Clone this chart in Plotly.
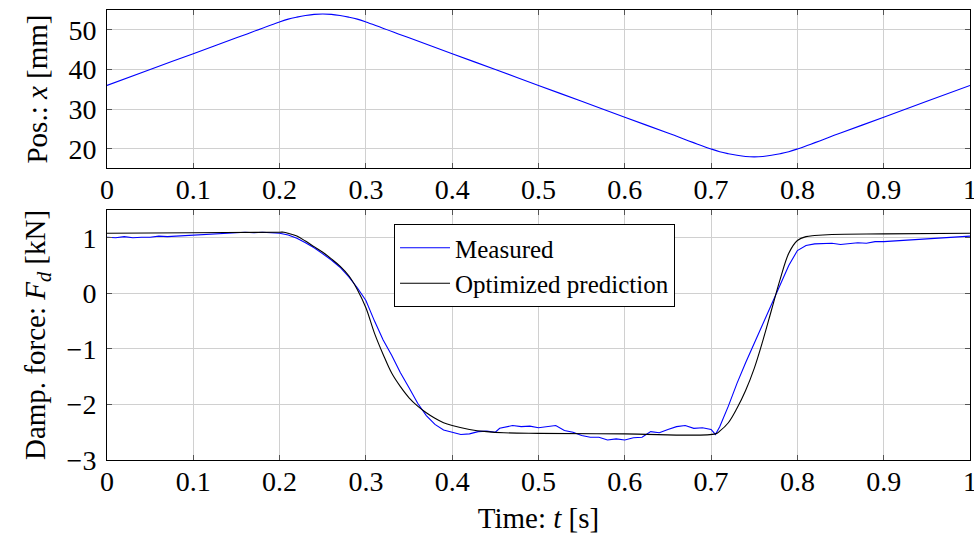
import plotly.graph_objects as go

# ---------------- data ----------------
t_pos = [0.00, 0.05, 0.10, 0.15, 0.20, 0.21, 0.22, 0.23, 0.24, 0.25, 0.26, 0.27, 0.28, 0.29,
         0.30, 0.35, 0.40, 0.45, 0.50, 0.55, 0.60, 0.65, 0.70, 0.71, 0.72, 0.73, 0.74, 0.75,
         0.76, 0.77, 0.78, 0.79, 0.80, 0.85, 0.90, 0.95, 1.00]
x_pos = [36.0, 40.0, 44.0, 48.0, 52.0, 52.7, 53.2, 53.6, 53.9, 54.0, 53.9, 53.6, 53.2, 52.7,
         52.0, 48.0, 44.0, 40.0, 36.0, 32.0, 28.0, 24.0, 20.0, 19.3, 18.8, 18.4, 18.1, 18.0,
         18.1, 18.4, 18.8, 19.3, 20.0, 24.0, 28.0, 32.0, 36.0]

t_meas = [0.00, 0.01, 0.02, 0.03, 0.04, 0.05, 0.06, 0.07, 0.08, 0.09, 0.10, 0.11, 0.12, 0.13,
          0.14, 0.15, 0.16, 0.17, 0.18, 0.19, 0.20, 0.21, 0.22, 0.23, 0.24, 0.25, 0.26, 0.27,
          0.28, 0.29, 0.30, 0.31, 0.32, 0.33, 0.34, 0.35, 0.36, 0.37, 0.38, 0.39, 0.40, 0.41,
          0.42, 0.43, 0.44, 0.45, 0.455, 0.46, 0.47, 0.48, 0.49, 0.50, 0.51, 0.52, 0.53, 0.54,
          0.55, 0.56, 0.57, 0.58, 0.59, 0.60, 0.61, 0.62, 0.63, 0.64, 0.65, 0.66, 0.67, 0.68,
          0.69, 0.70, 0.705, 0.71, 0.72, 0.73, 0.74, 0.75, 0.76, 0.77, 0.78, 0.79, 0.80, 0.81,
          0.82, 0.83, 0.84, 0.85, 0.86, 0.87, 0.88, 0.89, 0.90, 0.91, 0.92, 0.93, 0.94, 0.95,
          0.96, 0.97, 0.98, 0.99, 1.00]
f_meas = [1.01, 1.00, 1.02, 1.00, 1.01, 1.01, 1.03, 1.02, 1.03, 1.04, 1.05, 1.05, 1.07, 1.08,
          1.09, 1.09, 1.10, 1.09, 1.10, 1.09, 1.08, 1.05, 0.99, 0.91, 0.82, 0.71, 0.60, 0.47,
          0.30, 0.10, -0.13, -0.50, -0.84, -1.12, -1.43, -1.70, -1.98, -2.20, -2.36, -2.46, -2.50, -2.54,
          -2.53, -2.49, -2.48, -2.50, -2.43, -2.41, -2.38, -2.40, -2.39, -2.42, -2.40, -2.38, -2.47, -2.50,
          -2.56, -2.59, -2.59, -2.64, -2.62, -2.64, -2.60, -2.59, -2.49, -2.51, -2.45, -2.40, -2.38, -2.43,
          -2.42, -2.45, -2.54, -2.40, -2.03, -1.62, -1.25, -0.90, -0.55, -0.20, 0.18, 0.50, 0.77, 0.86,
          0.89, 0.89, 0.90, 0.88, 0.90, 0.91, 0.90, 0.93, 0.93, 0.94, 0.95, 0.95, 0.97, 0.97,
          0.98, 0.99, 1.00, 1.01, 1.03]

t_pred = [0.00, 0.10, 0.20, 0.205, 0.21, 0.22, 0.23, 0.24, 0.25, 0.26, 0.27, 0.28, 0.29, 0.30,
          0.31, 0.32, 0.33, 0.34, 0.35, 0.36, 0.37, 0.38, 0.39, 0.40, 0.42, 0.44, 0.46, 0.50,
          0.60, 0.705, 0.71, 0.72, 0.73, 0.74, 0.75, 0.76, 0.77, 0.78, 0.79, 0.80, 0.81, 0.82,
          0.84, 0.90, 1.00]
f_pred = [1.08, 1.09, 1.10, 1.10, 1.08, 1.03, 0.94, 0.84, 0.74, 0.62, 0.49, 0.32, 0.07, -0.26,
          -0.72, -1.10, -1.44, -1.68, -1.88, -2.03, -2.15, -2.25, -2.33, -2.38, -2.45, -2.49, -2.51, -2.52,
          -2.53, -2.53, -2.48, -2.33, -2.07, -1.75, -1.35, -0.85, -0.30, 0.25, 0.72, 0.95, 1.02, 1.04,
          1.06, 1.07, 1.08]

t_ticks = [0, 0.1, 0.2, 0.3, 0.4, 0.5, 0.6, 0.7, 0.8, 0.9, 1]
t_ticktext = ["0", "0.1", "0.2", "0.3", "0.4", "0.5", "0.6", "0.7", "0.8", "0.9", "1"]
pos_ticks = [20, 30, 40, 50]
force_ticks = [-3, -2, -1, 0, 1]

FONT = "Liberation Serif"

fig = go.Figure()
fig.add_trace(go.Scatter(x=t_pos, y=x_pos, mode="lines", line=dict(color="#0000ff", width=1.1),
                         xaxis="x", yaxis="y", showlegend=False, line_shape="spline"))
fig.add_trace(go.Scatter(x=t_meas, y=f_meas, mode="lines", name="Measured",
                         line=dict(color="#0000ff", width=1.1), xaxis="x2", yaxis="y2"))
fig.add_trace(go.Scatter(x=t_pred, y=f_pred, mode="lines", name="Optimized prediction",
                         line=dict(color="#000000", width=1.1), xaxis="x2", yaxis="y2",
                         line_shape="spline"))

axis_common = dict(showgrid=True, gridcolor="#d0d0d0", gridwidth=1, zeroline=False,
                   showline=True, linecolor="#000000", linewidth=1, mirror="ticks",
                   ticks="inside", ticklen=5, tickcolor="#555555", automargin=False,
                   ticklabeloverflow="allow",
                   tickfont=dict(family=FONT, size=28, color="#000000"))

fig.update_layout(
    template="none",
    width=974, height=538,
    margin=dict(l=107, r=4, t=10, b=78, autoexpand=False),
    paper_bgcolor="white", plot_bgcolor="white",
    font=dict(family=FONT, color="#000000"),
    xaxis=dict(domain=[0, 1], anchor="y", range=[0, 1.00001], tickvals=t_ticks, ticktext=t_ticktext,
               ticklabelstandoff=-4, **axis_common),
    yaxis=dict(domain=[0.6489, 1], anchor="x", range=[15.2, 55], tickvals=pos_ticks,
               ticklabelstandoff=4,
               title=dict(text="Pos.: <i>x</i> [mm]", font=dict(family=FONT, size=29), standoff=12),
               **axis_common),
    xaxis2=dict(domain=[0, 1], anchor="y2", range=[0, 1.00001], tickvals=t_ticks, ticktext=t_ticktext,
                ticklabelstandoff=-4,
                title=dict(text="Time: <i>t</i> [s]", font=dict(family=FONT, size=29), standoff=12),
                **axis_common),
    yaxis2=dict(domain=[0, 0.5556], anchor="x2", range=[-3, 1.5], tickvals=force_ticks,
                ticklabelstandoff=4,
                title=dict(text="Damp. force: <i>F<sub>d</sub></i> [kN]", font=dict(family=FONT, size=29),
                           standoff=12),
                **axis_common),
    legend=dict(x=0.3326, y=0.5244, xanchor="left", yanchor="top",
                bgcolor="white", bordercolor="#000000", borderwidth=1,
                font=dict(family=FONT, size=25, color="#000000"),
                tracegroupgap=0, itemwidth=50),
    showlegend=True,
)

fig.write_html("out.html", config={"displayModeBar": False},
               post_script="document.body.style.margin='0';document.body.style.overflow='hidden';")
